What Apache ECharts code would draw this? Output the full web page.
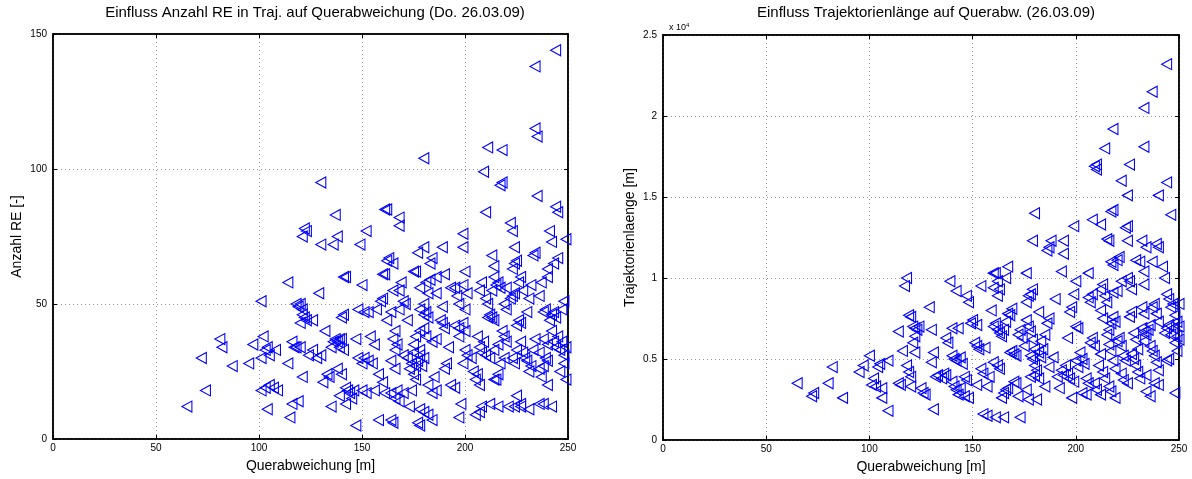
<!DOCTYPE html>
<html>
<head>
<meta charset="utf-8">
<script src="https://cdn.jsdelivr.net/npm/echarts@6/dist/echarts.min.js"></script>
<style>
  html, body { margin: 0; padding: 0; background: #fff; }
  #main { width: 1192px; height: 479px; }
</style>
</head>
<body>
<div id="main"></div>
<script>
// Querabweichung [m] vs. Anzahl RE [-]
const anzahlPunkte = [
  [65,12],[72,30],[74,18],[81,37],[82,34],[87,27],[95,28],[97,35],[101,51],
  [101,30],[102,38],[103,33],[104,34],[105,31],[108,33],
  [101,18],[103,19],[105,20],[107,19],[104,11],[109,18],
  [114,58],[114,28],[115,8],[116,13],[119,14],
  [116,36],[117,34],[118,34],[120,34],
  [118,50],[119,49],[120,50],[121,48],[121,46],[122,45],[123,44],[126,44],
  [120,43],[121,75],[122,78],[123,77],[121,23],
  [124,31],[126,33],[128,30],[130,31],
  [129,54],[130,95],[130,72],[131,21],[132,40],[133,24],[134,23],
  [136,72],[137,83],[138,75],[135,12],
  [135,34],[136,36],[137,37],[138,36],[139,37],[140,37],[141,33],[139,34],
  [138,26],[140,24],[140,45],[141,46],[141,60],[142,60],
  [139,16],[142,19],[143,18],[144,17],[146,18],[145,15],[142,13],
  [147,5],[147,37],[148,48],[149,72],
  [148,30],[150,28],[151,30],[153,29],[155,28],
  [150,57],[152,77],[151,47],[153,47],
  [150,18],[152,17],[156,18],
  [154,38],[156,35],[157,48],
  [159,51],[160,52],[160,61],[161,61],[161,85],[162,85],
  [158,24],[160,21],[161,17],[158,7],[164,7],[165,6],
  [162,66],[163,67],[165,65],
  [162,44],[164,47],[165,55],[166,40],[165,37],[166,33],[167,35],[164,29],[166,26],
  [164,17],[166,15],[167,18],[168,14],[170,17],[173,12],[174,18],
  [168,82],[168,79],
  [168,55],[169,58],[170,51],[172,44],[171,50],[168,48],
  [170,31],[172,30],[174,28],[175,32],[176,27],[177,29],[178,31],[179,27],[180,30],
  [178,33],[175,35],[176,38],[178,40],[180,41],[181,38],
  [175,24],[176,22],[173,26],
  [175,62],[176,62],[177,69],[178,56],[180,71],
  [177,6],[178,5],[178,11],[180,10],[182,9],[184,7],
  [180,104],
  [178,48],[180,50],[181,47],[182,45],[180,46],[182,54],[181,58],[183,59],
  [183,65],[184,67],[186,60],[189,71],[190,61],
  [182,20],[184,17],[186,18],[185,23],
  [184,36],[186,37],[188,44],[189,43],[190,41],[189,49],[186,54],
  [190,26],[191,28],[192,34],[193,20],[195,19],
  [193,56],[195,56],[196,53],[197,50],[195,42],[197,41],[199,43],[200,40],[197,38],
  [198,13],[197,8],[199,28],[200,33],[201,31],
  [199,76],[199,71],[200,62],[201,54],[199,57],[200,48],
  [203,30],[204,25],[205,22],[206,24],[207,20],[205,9],[207,10],[208,12],
  [206,38],[207,34],[208,32],[209,36],[210,31],[207,55],[208,58],[210,52],[211,50],
  [210,84],[209,99],[211,108],
  [211,45],[212,46],[213,45],[214,44],[213,55],[214,60],[215,57],[216,58],[217,56],
  [213,68],[214,64],
  [212,13],[216,12],[221,12],[224,12],[227,13],[231,11],
  [214,22],[215,22],[216,24],[212,30],[214,33],[216,35],[218,40],[219,38],[220,36],[217,28],[219,30],
  [217,94],[218,95],[218,107],
  [219,50],[220,48],[220,56],[222,52],
  [222,80],[223,77],[224,71],[223,63],[224,65],[225,66],
  [223,53],[224,54],[226,58],[227,60],[228,55],[226,44],[225,42],[227,43],
  [223,30],[224,28],[225,33],[227,36],[228,32],[229,30],[230,29],[231,25],[232,27],[233,33],[234,37],
  [225,16],[227,12],
  [230,47],[231,52],[232,57],[233,68],[234,69],[234,115],[235,112],[234,138],[235,90],
  [236,26],[237,23],[238,27],[239,30],[240,29],[236,32],[238,37],[240,35],
  [236,13],[238,13],[240,20],[242,12],
  [236,53],[237,58],[238,47],[239,48],[240,60],[240,63],[241,77],[242,73],[243,65],
  [241,44],[242,46],[243,47],[244,45],[242,40],
  [243,36],[244,34],[245,38],[246,33],[247,36],[248,31],
  [244,86],[245,84],[244,144],
  [246,25],[248,28],[249,22],[249,34],
  [247,48],[248,51],[249,74],[245,67]
];

// Querabweichung [m] vs. Trajektorienlaenge [m]
const laengePunkte = [
  [65,3500],[72,2700],[73,2900],[80,3500],[82,4500],[87,2600],[95,4200],[97,4600],
  [100,5200],[101,3400],[102,3800],[103,3300],[104,4500],[105,4700],[106,3200],[106,2600],
  [109,4900],[109,1800],[114,6700],[114,3500],[115,3400],
  [117,9500],[118,10000],[116,5500],
  [118,4600],[119,4200],[120,3900],[120,3300],
  [119,7700],[120,7600],[121,7000],[122,6900],[122,6400],[121,6000],[123,6800],[124,7000],[122,5400],
  [125,3200],[126,2900],[127,2800],
  [129,8200],[130,6800],[130,4800],[131,5400],[131,1900],
  [132,3900],[133,4000],[135,3800],[136,4100],[137,4000],[137,6300],[138,6000],
  [139,9800],[140,6900],[140,5200],[141,5000],[142,4900],[140,3600],[141,3300],[142,3100],[143,2800],[144,3200],
  [142,9200],[143,6900],[144,5100],[145,4700],[146,3900],[147,3700],[146,2700],[148,2600],
  [147,8900],[148,8500],[149,7200],[150,7400],[152,7100],[151,6000],[152,5800],[153,5600],[154,4400],[152,3400],
  [154,9500],[156,5700],[155,4100],[158,3900],[157,3300],
  [155,1600],[157,1500],[161,1400],[165,1400],
  [160,10300],[161,10300],[162,9800],[160,9400],[163,9300],[162,8900],
  [159,8000],[160,7000],[161,7200],[162,6800],[163,6600],[164,6400],[165,6800],[166,7300],[167,7800],[168,7700],[169,8100],
  [162,4600],[163,4400],[160,4800],
  [164,2600],[165,2900],[166,3100],[167,3200],
  [167,10700],[166,10000],
  [168,5400],[169,5500],[170,5300],[171,5200],[172,6500],[173,6800],[174,6300],[175,5800],
  [170,3600],[171,3500],[172,2700],[173,1400],
  [176,10300],[177,8900],[178,9000],[179,9300],[176,8500],
  [176,7400],[177,7000],[178,6700],[179,6200],[180,5600],[178,5200],[179,5000],[180,4600],[181,4300],[178,3900],[180,4000],[182,3800],
  [177,2500],[181,2500],[176,3100],
  [180,14000],[179,12300],[182,7900],
  [182,5400],[183,5100],[184,5600],[185,6500],[186,7200],[187,7500],[183,6100],
  [186,11700],[187,11900],[188,12300],
  [185,3300],[187,4500],[190,8700],[189,5100],
  [194,12300],[194,11500],[193,10400],
  [191,3900],[192,3200],[193,4300],[194,4000],[195,4600],[196,4100],[197,3800],[196,6300],[197,7900],[198,8200],
  [198,2600],[199,3600],[200,4900],[201,4500],
  [199,13200],[200,9800],[199,9000],[200,7000],[201,6900],
  [202,5400],[203,5000],[204,4700],[205,3800],[206,3500],[203,2900],[205,2800],
  [206,10300],[206,8800],[207,8500],[208,9000],[207,6000],[208,6300],[209,5800],
  [208,13600],[209,16900],[210,17000],[210,16700],[212,13300],
  [209,3500],[210,3100],[211,4600],[212,5300],[213,4200],[214,3800],[212,2800],
  [212,9300],[213,9600],[214,8900],[215,8500],[212,8000],[213,7500],
  [214,18000],[215,12400],[216,12300],[217,11000],[218,10800],
  [217,14100],[218,14200],[218,19200],
  [215,6500],[216,6800],[217,7200],[218,7600],[219,7300],[216,5900],[217,5500],[218,4900],[219,4400],[216,3300],[217,3000],[219,2600],
  [218,9100],[220,9200],[221,11300],[220,11100],[222,9800],
  [220,6100],[221,6300],[222,5800],[223,5200],[224,4900],[222,4100],[223,3700],[225,3500],
  [222,16000],[225,15100],[226,17000],[224,13100],[225,13200],[225,12300],
  [225,10000],[226,9800],[227,9300],[229,11100],[231,11000],
  [226,7600],[227,7900],[228,6600],[229,6200],[230,5600],[228,5000],[229,4600],[230,4200],[231,3800],[227,5300],
  [232,8200],[233,7800],[232,6900],[233,6700],[234,6500],[235,6800],[236,7100],[233,6100],
  [233,20500],[233,18100],[233,10400],[233,9600],
  [237,21500],[240,15100],[232,12300],[234,11900],[239,12100],[240,11900],[237,11000],
  [237,8200],[238,8400],[239,7800],[240,7300],[236,5800],[237,5500],[238,5200],[239,4800],[240,4300],
  [234,3000],[236,2700],[238,3500],[240,3400],[234,4000],
  [242,10700],[243,10000],[244,9000],[245,8700],[246,8200],[247,8400],[248,7700],[249,7300],[250,8400],
  [243,6600],[244,6900],[245,7100],[246,6500],[247,6900],[248,6000],[249,6400],[250,7000],[250,6200],
  [244,4900],[245,5000],[249,5500],[248,2900],
  [244,23200],[244,15900],[246,13900]
];

const xTicks = [0, 50, 100, 150, 200, 250];
const anzahlTicks = [0, 50, 100, 150];
const laengeTicks = [0, 5000, 10000, 15000, 20000, 25000];

const chart = echarts.init(document.getElementById('main'));
const FONT = 'Liberation Sans, Arial, sans-serif';
const TRI = 'path://M0,5 L10,0 L10,10 Z';

function xAxisDef(gridIndex, withName) {
  return {
    gridIndex: gridIndex, type: 'value', min: 0, max: 250, interval: 50,
    position: withName ? 'bottom' : 'top',
    name: withName ? 'Querabweichung [m]' : '', nameLocation: 'middle', nameGap: 20,
    nameTextStyle: { fontFamily: FONT, fontSize: 14, color: '#000' },
    axisLine: { show: true, onZero: false, lineStyle: { color: '#000', width: 1.5 } },
    axisTick: { show: true, inside: true, length: 4, lineStyle: { color: '#000' } },
    axisLabel: { show: withName, fontFamily: FONT, fontSize: 10, color: '#000', margin: 4 },
    splitLine: { show: withName, lineStyle: { color: '#999', type: [1, 3], width: 1 } }
  };
}

function yAxisDef(gridIndex, withName, name, max, interval, fmt, gap) {
  return {
    gridIndex: gridIndex, type: 'value', min: 0, max: max, interval: interval,
    position: withName ? 'left' : 'right',
    name: withName ? name : '', nameLocation: 'middle', nameGap: gap || 29,
    nameTextStyle: { fontFamily: FONT, fontSize: 14, color: '#000' },
    axisLine: { show: true, onZero: false, lineStyle: { color: '#000', width: 1.5 } },
    axisTick: { show: true, inside: true, length: 4, lineStyle: { color: '#000' } },
    axisLabel: { show: withName, fontFamily: FONT, fontSize: 10, color: '#000', margin: 6, formatter: fmt },
    splitLine: { show: withName, lineStyle: { color: '#999', type: [1, 3], width: 1 } }
  };
}

const option = {
  backgroundColor: '#fff',
  animation: false,
  title: [
    {
      text: 'Einfluss Anzahl RE in Traj. auf Querabweichung (Do. 26.03.09)',
      left: 310, top: 0, textAlign: 'center',
      textStyle: { fontFamily: FONT, fontSize: 15, fontWeight: 'normal', color: '#000' }
    },
    {
      text: 'Einfluss Trajektorienlänge auf Querabw. (26.03.09)',
      left: 921, top: 0, textAlign: 'center',
      textStyle: { fontFamily: FONT, fontSize: 15, fontWeight: 'normal', color: '#000' }
    },
    {
      text: 'x 10{s|4}',
      left: 664, top: 17,
      textStyle: {
        fontFamily: FONT, fontSize: 9, fontWeight: 'normal', color: '#000',
        rich: { s: { fontFamily: FONT, fontSize: 6, verticalAlign: 'top', padding: [0, 0, 6, 0] } }
      }
    }
  ],
  grid: [
    { left: 53, right: 624, top: 34, bottom: 40, show: true, borderColor: '#000', borderWidth: 1.5 },
    { left: 663, right: 13, top: 35, bottom: 39, show: true, borderColor: '#000', borderWidth: 1.5 }
  ],
  xAxis: [xAxisDef(0, true), xAxisDef(0, false), xAxisDef(1, true), xAxisDef(1, false)],
  yAxis: [
    yAxisDef(0, true, 'Anzahl RE [-]', 150, 50, null, 29),
    yAxisDef(0, false, '', 150, 50),
    yAxisDef(1, true, 'Trajektorienlaenge [m]', 25000, 5000, function (v) { return String(v / 10000); }, 26),
    yAxisDef(1, false, '', 25000, 5000)
  ],
  series: [
    {
      type: 'scatter', xAxisIndex: 0, yAxisIndex: 0, data: anzahlPunkte,
      symbol: TRI, symbolSize: [10, 11],
      itemStyle: { color: 'rgba(0,0,0,0)', borderColor: '#0000ff', borderWidth: 1.1, opacity: 1 }
    },
    {
      type: 'scatter', xAxisIndex: 2, yAxisIndex: 2, data: laengePunkte,
      symbol: TRI, symbolSize: [10, 11],
      itemStyle: { color: 'rgba(0,0,0,0)', borderColor: '#0000ff', borderWidth: 1.1, opacity: 1 }
    }
  ]
};

chart.setOption(option);
</script>
</body>
</html>
